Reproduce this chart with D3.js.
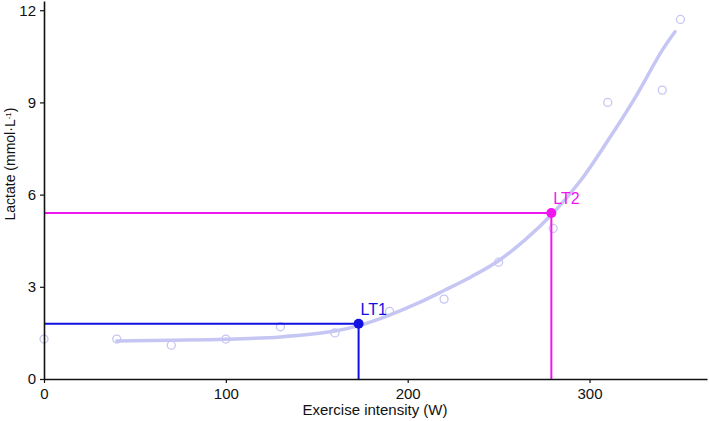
<!DOCTYPE html>
<html>
<head>
<meta charset="utf-8">
<script src="https://cdn.jsdelivr.net/npm/d3@7"></script>
<style>
  body { margin: 0; background: #fff; }
  svg { font-family: "Liberation Sans", Arial, sans-serif; }
</style>
</head>
<body>
<svg id="chart" width="709" height="421"></svg>
<script>
// measured lactate samples
var intensity = [0, 40, 70, 100, 130, 160, 190, 220, 250, 280, 310, 340, 350];
var lactate = [1.3, 1.3, 1.1, 1.3, 1.7, 1.5, 2.2, 2.6, 3.8, 4.9, 9.0, 9.4, 11.7];

// fitted curve
var fitW = [40, 70, 100, 130, 160, 175, 190, 205, 220, 235, 250, 265, 280, 295, 310, 325, 340, 347];
var fitL = [1.24, 1.26, 1.29, 1.37, 1.56, 1.77, 2.08, 2.45, 2.88, 3.33, 3.85, 4.55, 5.4, 6.45, 7.75, 9.15, 10.7, 11.3];

// thresholds
var thrNames = ["LT1", "LT2"];
var thrW = [173, 279];
var thrL = [1.8, 5.4];
var thrColors = ["#1010e0", "#f016f0"];

var xTicks = [0, 100, 200, 300];
var yTicks = [0, 3, 6, 9, 12];

var svg = d3.select("#chart");
var margin = { left: 44, top: 1, right: 2, bottom: 42 };
var width = 709, height = 421;

var x = d3.scaleLinear().domain([0, 364.6]).range([margin.left, width - margin.right]);
var y = d3.scaleLinear().domain([0, 12.3]).range([height - margin.bottom, margin.top]);

var curveColor = "#c6c6f4";

// fitted line
var fit = fitW.map(function(w, i) { return { w: w, l: fitL[i] }; });
svg.append("path")
    .datum(fit)
    .attr("fill", "none")
    .attr("stroke", curveColor)
    .attr("stroke-width", 3.5)
    .attr("stroke-linecap", "round")
    .attr("d", d3.line().x(d => x(d.w)).y(d => y(d.l)).curve(d3.curveCatmullRom));

// sample circles
svg.selectAll(".pt")
    .data(intensity.map(function(w, i) { return { w: w, l: lactate[i] }; }))
    .join("circle")
    .attr("class", "pt")
    .attr("cx", d => x(d.w))
    .attr("cy", d => y(d.l))
    .attr("r", 4)
    .attr("fill", "none")
    .attr("stroke", curveColor)
    .attr("stroke-width", 1.3);

// threshold guides
thrNames.forEach(function(name, i) {
    var g = svg.append("g");
    g.append("line")
        .attr("x1", x(0)).attr("x2", x(thrW[i]))
        .attr("y1", y(thrL[i])).attr("y2", y(thrL[i]))
        .attr("stroke", thrColors[i]).attr("stroke-width", 2);
    g.append("line")
        .attr("x1", x(thrW[i])).attr("x2", x(thrW[i]))
        .attr("y1", y(thrL[i])).attr("y2", y(0))
        .attr("stroke", thrColors[i]).attr("stroke-width", 2);
    g.append("circle")
        .attr("cx", x(thrW[i])).attr("cy", y(thrL[i]))
        .attr("r", 5)
        .attr("fill", thrColors[i]);
    g.append("text")
        .attr("x", x(thrW[i]) + 2)
        .attr("y", y(thrL[i]) - 9)
        .attr("fill", thrColors[i])
        .attr("font-size", 16)
        .text(name);
});

// axes
var xAxis = svg.append("g")
    .attr("transform", `translate(0,${height - margin.bottom})`)
    .call(d3.axisBottom(x).tickValues(xTicks).tickSize(4).tickSizeOuter(0));
var yAxis = svg.append("g")
    .attr("transform", `translate(${margin.left},0)`)
    .call(d3.axisLeft(y).tickValues(yTicks).tickSize(4).tickSizeOuter(0));

[xAxis, yAxis].forEach(function(a) {
    a.select(".domain").attr("stroke", "#111").attr("stroke-width", 1.6);
    a.selectAll(".tick line").attr("stroke", "#111").attr("stroke-width", 1.2);
    a.selectAll(".tick text")
        .attr("font-family", "Liberation Sans, Arial, sans-serif")
        .attr("font-size", 15)
        .attr("fill", "#111");
});
xAxis.selectAll(".tick text").attr("dy", "0.95em").attr("y", 6);
yAxis.selectAll(".tick text").attr("x", -8);

// axis titles
svg.append("text")
    .attr("x", 375)
    .attr("y", 415)
    .attr("text-anchor", "middle")
    .attr("font-size", 15)
    .attr("fill", "#111")
    .text("Exercise intensity (W)");

var yt = svg.append("text")
    .attr("transform", "translate(15,164) rotate(-90)")
    .attr("text-anchor", "middle")
    .attr("font-size", 14)
    .attr("fill", "#111");
yt.append("tspan").text("Lactate (mmol·L");
yt.append("tspan").attr("baseline-shift", "super").attr("font-size", 8).text("-1");
yt.append("tspan").text(")");
</script>
</body>
</html>
